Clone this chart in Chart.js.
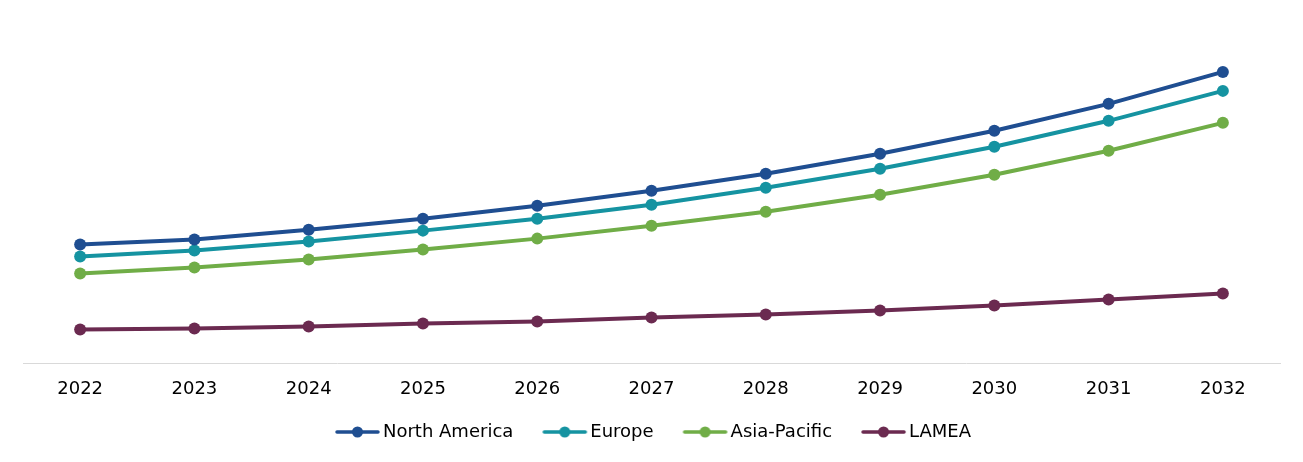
<!DOCTYPE html>
<html>
<head>
<meta charset="utf-8">
<script src="https://cdn.jsdelivr.net/npm/chart.js@4"></script>
<style>
  html, body { margin: 0; padding: 0; background: #fff; }
  #wrap { width: 1303px; height: 462px; }
</style>
</head>
<body>
<div id="wrap"><canvas id="chartCanvas"></canvas></div>
<script>
// years on the x axis
const YEARS = ['2022', '2023', '2024', '2025', '2026', '2027', '2028', '2029', '2030', '2031', '2032'];
// series values (no y axis shown, read as relative heights)
const NORTH_AMERICA = [119, 124, 134, 145, 158, 173, 190, 210, 233, 260, 292];
const EUROPE = [107, 113, 122, 133, 145, 159, 176, 195, 217, 243, 273];
const ASIA_PACIFIC = [90, 96, 104, 114, 125, 138, 152, 169, 189, 213, 241];
const LAMEA = [34, 35, 37, 40, 42, 46, 49, 53, 58, 64, 70];

const COLORS = ['#1f4e91', '#1593a1', '#70ad47', '#6b2a50'];

// legend marker: line with a dot in the middle, drawn right of the box centre
// so the gap before each item is wider than the gap before its text
function legendMark(color) {
    const c = document.createElement('canvas');
    c.width = 76;
    c.height = 14;
    const g = c.getContext('2d');
    g.strokeStyle = color;
    g.lineWidth = 3.5;
    g.lineCap = 'round';
    g.beginPath();
    g.moveTo(31, 7);
    g.lineTo(72, 7);
    g.stroke();
    g.fillStyle = color;
    g.beginPath();
    g.arc(51.5, 7, 5.5, 0, Math.PI * 2);
    g.fill();
    return c;
}

// nudge the legend row a little to the left, like the original
const legendShift = {
    id: 'legendShift',
    afterLayout(chart) {
        chart.legend.left -= 9;
        chart.legend.right -= 9;
    }
};

function series(label, data, color) {
    return {
        label: label,
        data: data,
        borderColor: color,
        backgroundColor: color,
        borderWidth: 4,
        pointRadius: 6,
        pointHoverRadius: 6,
        pointBorderWidth: 0,
        pointStyle: 'circle',
        tension: 0
    };
}

const ctx = document.getElementById('chartCanvas').getContext('2d');
const myChart = new Chart(ctx, {
    type: 'line',
    data: {
        labels: YEARS,
        datasets: [
            series('North America', NORTH_AMERICA, COLORS[0]),
            series('Europe', EUROPE, COLORS[1]),
            series('Asia-Pacific', ASIA_PACIFIC, COLORS[2]),
            series('LAMEA', LAMEA, COLORS[3])
        ]
    },
    options: {
        responsive: true,
        maintainAspectRatio: false,
        animation: false,
        layout: { padding: { top: 20, left: 23, right: 23, bottom: 11 } },
        plugins: {
            tooltip: { enabled: false },
            legend: {
                position: 'bottom',
                labels: {
                    usePointStyle: true,
                    pointStyleWidth: 60,
                    padding: 8,
                    color: '#000',
                    font: { family: 'DejaVu Sans', size: 18 },
                    generateLabels: function (chart) {
                        return chart.data.datasets.map(function (ds, i) {
                            return {
                                text: ds.label,
                                pointStyle: legendMark(ds.borderColor),
                                fillStyle: ds.borderColor,
                                strokeStyle: ds.borderColor,
                                lineWidth: 0,
                                fontColor: '#000',
                                datasetIndex: i
                            };
                        });
                    }
                }
            }
        },
        scales: {
            x: {
                offset: true,
                grid: { display: false, drawTicks: false },
                border: { display: true, color: '#d9d9d9', width: 1 },
                ticks: {
                    color: '#000',
                    padding: 15,
                    font: { family: 'DejaVu Sans', size: 18 },
                    maxRotation: 0
                }
            },
            y: {
                display: false,
                min: 0,
                max: 344
            }
        }
    },
    plugins: [legendShift]
});
</script>
</body>
</html>
